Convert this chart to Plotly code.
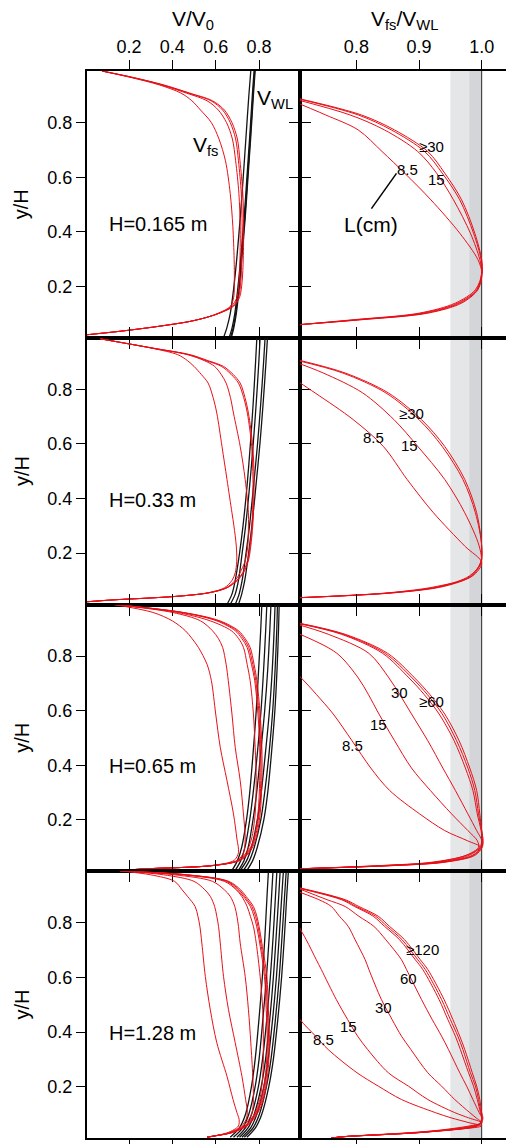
import plotly.graph_objects as go
from plotly.subplots import make_subplots

# ---------------- data ----------------
# Left column: V/V0 profiles.  Right column: Vfs/VWL ratio profiles.
ROW_TITLES = ["H=0.165 m", "H=0.33 m", "H=0.65 m", "H=1.28 m"]

# ---- Row 1 (H = 0.165 m) ----
R1_FS_Y = [0.023, 0.035, 0.048, 0.06, 0.072, 0.087, 0.103, 0.127, 0.16, 0.22, 0.3,
           0.42, 0.54, 0.66, 0.74, 0.80, 0.846, 0.88, 0.908, 0.938, 0.965, 0.989]
R1_FS_X = [
    [0.006, 0.15, 0.283, 0.39, 0.482, 0.56, 0.621, 0.682, 0.71, 0.722, 0.727, 0.729, 0.725, 0.712, 0.70, 0.675, 0.64, 0.585, 0.48, 0.36, 0.22, 0.075],
    [0.006, 0.15, 0.283, 0.39, 0.482, 0.56, 0.62, 0.678, 0.705, 0.716, 0.72, 0.722, 0.718, 0.705, 0.692, 0.667, 0.632, 0.578, 0.475, 0.355, 0.22, 0.075],
    [0.006, 0.15, 0.283, 0.39, 0.482, 0.56, 0.618, 0.672, 0.698, 0.708, 0.712, 0.713, 0.707, 0.692, 0.677, 0.65, 0.612, 0.56, 0.465, 0.35, 0.215, 0.075],
    [0.006, 0.15, 0.283, 0.39, 0.482, 0.56, 0.615, 0.668, 0.683, 0.686, 0.685, 0.679, 0.667, 0.645, 0.615, 0.58, 0.53, 0.49, 0.44, 0.34, 0.21, 0.075],
]
R1_WL_Y = [0.012, 0.05, 0.1, 0.2, 0.3, 0.45, 0.6, 0.75, 0.9, 0.99]
R1_WL_X = [
    [0.636, 0.652, 0.667, 0.684, 0.697, 0.713, 0.727, 0.740, 0.753, 0.762],
    [0.662, 0.676, 0.688, 0.703, 0.715, 0.731, 0.744, 0.757, 0.769, 0.777],
    [0.668, 0.681, 0.692, 0.707, 0.718, 0.734, 0.747, 0.760, 0.772, 0.780],
    [0.672, 0.684, 0.695, 0.709, 0.720, 0.736, 0.749, 0.762, 0.774, 0.782],
]
R1_RT_Y = [0.06, 0.078, 0.102, 0.139, 0.188, 0.249, 0.298, 0.395, 0.517, 0.615, 0.694, 0.773, 0.828, 0.887]
R1_RT_X = [
    [0.71, 0.808, 0.914, 0.968, 0.994, 1.001, 1.0, 0.989, 0.968, 0.941, 0.914, 0.861, 0.808, 0.71],
    [0.71, 0.805, 0.91, 0.965, 0.993, 1.0, 0.999, 0.987, 0.965, 0.937, 0.909, 0.856, 0.803, 0.707],
    [0.71, 0.80, 0.905, 0.962, 0.992, 1.0, 0.997, 0.982, 0.955, 0.928, 0.898, 0.845, 0.79, 0.70],
    [0.71, 0.795, 0.9, 0.958, 0.99, 1.0, 0.994, 0.965, 0.919, 0.877, 0.841, 0.803, 0.751, 0.69],
]
R1_LABELS = ["\u226530", "8.5", "15"]
R1_LABEL_X = [0.92, 0.882, 0.928]
R1_LABEL_Y = [0.712, 0.63, 0.593]

# ---- Row 2 (H = 0.33 m) ----
R2_FS_Y = [0.022, 0.029, 0.036, 0.043, 0.055, 0.073, 0.1, 0.128, 0.17, 0.226, 0.3, 0.348,
           0.47, 0.591, 0.713, 0.77, 0.823, 0.855, 0.884, 0.905, 0.927, 0.95, 0.97, 0.985]
R2_FS_X = [
    [0.006, 0.129, 0.30, 0.436, 0.57, 0.652, 0.70, 0.728, 0.75, 0.762, 0.771, 0.774, 0.777, 0.771, 0.751, 0.735, 0.713, 0.68, 0.636, 0.565, 0.482, 0.318, 0.175, 0.068],
    [0.006, 0.129, 0.30, 0.436, 0.57, 0.65, 0.697, 0.724, 0.746, 0.758, 0.767, 0.77, 0.772, 0.766, 0.746, 0.729, 0.705, 0.671, 0.627, 0.556, 0.475, 0.315, 0.175, 0.068],
    [0.006, 0.129, 0.30, 0.436, 0.568, 0.648, 0.69, 0.712, 0.735, 0.748, 0.751, 0.751, 0.736, 0.713, 0.682, 0.668, 0.648, 0.625, 0.595, 0.548, 0.47, 0.315, 0.175, 0.068],
    [0.006, 0.129, 0.30, 0.436, 0.565, 0.64, 0.675, 0.69, 0.697, 0.695, 0.684, 0.675, 0.652, 0.629, 0.605, 0.588, 0.565, 0.533, 0.50, 0.47, 0.425, 0.31, 0.175, 0.068],
]
R2_WL_Y = [0.012, 0.05, 0.1, 0.2, 0.3, 0.45, 0.6, 0.75, 0.9, 0.99]
R2_WL_X = [
    [0.652, 0.675, 0.69, 0.71, 0.726, 0.745, 0.76, 0.773, 0.784, 0.790],
    [0.667, 0.69, 0.705, 0.722, 0.738, 0.757, 0.773, 0.787, 0.799, 0.805],
    [0.69, 0.708, 0.722, 0.74, 0.756, 0.775, 0.793, 0.808, 0.821, 0.828],
    [0.705, 0.72, 0.734, 0.752, 0.767, 0.786, 0.804, 0.819, 0.832, 0.839],
]
R2_RT_Y = [0.037, 0.055, 0.079, 0.116, 0.165, 0.226, 0.348, 0.47, 0.591, 0.689, 0.787, 0.86, 0.906]
R2_RT_X = [
    [0.71, 0.861, 0.941, 0.984, 0.999, 1.0, 0.992, 0.973, 0.941, 0.904, 0.851, 0.782, 0.71],
    [0.71, 0.858, 0.938, 0.982, 0.998, 1.0, 0.99, 0.97, 0.937, 0.9, 0.847, 0.778, 0.705],
    [0.71, 0.855, 0.935, 0.98, 0.999, 0.996, 0.973, 0.941, 0.898, 0.86, 0.81, 0.747, 0.695],
    [0.71, 0.852, 0.93, 0.985, 1.0, 0.973, 0.923, 0.881, 0.843, 0.795, 0.734, 0.686, 0.656],
]
R2_LABELS = ["\u226530", "8.5", "15"]
R2_LABEL_X = [0.888, 0.827, 0.885]
R2_LABEL_Y = [0.713, 0.622, 0.594]

# ---- Row 3 (H = 0.65 m) ----
R3_FS_Y = [0.015, 0.021, 0.033, 0.052, 0.08, 0.13, 0.222, 0.344, 0.466, 0.588, 0.71,
           0.77, 0.832, 0.865, 0.893, 0.929, 0.96, 0.99]
R3_FS_X = [
    [0.16, 0.283, 0.59, 0.713, 0.755, 0.785, 0.805, 0.813, 0.813, 0.805, 0.79, 0.777, 0.759, 0.735, 0.705, 0.62, 0.45, 0.12],
    [0.16, 0.283, 0.59, 0.71, 0.75, 0.78, 0.8, 0.808, 0.808, 0.8, 0.785, 0.771, 0.752, 0.728, 0.698, 0.612, 0.445, 0.12],
    [0.16, 0.283, 0.588, 0.707, 0.746, 0.776, 0.795, 0.803, 0.803, 0.795, 0.78, 0.765, 0.745, 0.72, 0.69, 0.605, 0.44, 0.12],
    [0.16, 0.283, 0.588, 0.705, 0.74, 0.765, 0.782, 0.787, 0.782, 0.774, 0.759, 0.745, 0.728, 0.705, 0.672, 0.575, 0.42, 0.12],
    [0.16, 0.283, 0.585, 0.70, 0.728, 0.736, 0.728, 0.713, 0.69, 0.675, 0.658, 0.648, 0.632, 0.612, 0.585, 0.53, 0.40, 0.12],
    [0.16, 0.283, 0.58, 0.685, 0.705, 0.698, 0.682, 0.652, 0.621, 0.600, 0.58, 0.56, 0.52, 0.49, 0.46, 0.40, 0.31, 0.12],
]
R3_WL_Y = [0.015, 0.05, 0.1, 0.2, 0.3, 0.45, 0.6, 0.75, 0.9, 0.99]
R3_WL_X = [
    [0.675, 0.70, 0.72, 0.742, 0.757, 0.773, 0.787, 0.798, 0.808, 0.813],
    [0.69, 0.715, 0.735, 0.757, 0.773, 0.793, 0.809, 0.821, 0.831, 0.836],
    [0.705, 0.73, 0.75, 0.772, 0.789, 0.808, 0.826, 0.84, 0.85, 0.855],
    [0.713, 0.742, 0.765, 0.792, 0.81, 0.83, 0.848, 0.861, 0.87, 0.874],
    [0.728, 0.755, 0.778, 0.808, 0.826, 0.847, 0.863, 0.874, 0.882, 0.885],
    [0.744, 0.77, 0.792, 0.822, 0.84, 0.858, 0.873, 0.883, 0.89, 0.893],
]
R3_RT_Y = [0.021, 0.033, 0.045, 0.07, 0.1, 0.124, 0.161, 0.222, 0.308, 0.39, 0.49,
           0.588, 0.66, 0.72, 0.81, 0.88, 0.92]
R3_RT_X = [
    [0.71, 0.861, 0.941, 0.989, 1.001, 1.002, 1.0, 0.997, 0.992, 0.981, 0.964, 0.941, 0.917, 0.893, 0.85, 0.782, 0.71],
    [0.71, 0.858, 0.938, 0.987, 1.0, 1.002, 1.0, 0.995, 0.989, 0.978, 0.96, 0.937, 0.913, 0.889, 0.846, 0.779, 0.708],
    [0.71, 0.855, 0.935, 0.985, 0.999, 1.001, 0.999, 0.993, 0.986, 0.974, 0.956, 0.932, 0.908, 0.884, 0.842, 0.776, 0.706],
    [0.71, 0.85, 0.93, 0.98, 0.997, 1.0, 0.992, 0.978, 0.958, 0.938, 0.914, 0.888, 0.869, 0.852, 0.82, 0.755, 0.70],
    [0.71, 0.845, 0.925, 0.975, 0.995, 0.993, 0.978, 0.952, 0.918, 0.888, 0.861, 0.836, 0.819, 0.803, 0.769, 0.71, 0.665],
    [0.71, 0.84, 0.92, 0.975, 0.998, 0.977, 0.941, 0.901, 0.853, 0.823, 0.793, 0.763, 0.736, 0.712, 0.67, 0.64, 0.62],
]
R3_LABELS = ["30", "\u226560", "15", "8.5"]
R3_LABEL_X = [0.869, 0.920, 0.835, 0.794]
R3_LABEL_Y = [0.667, 0.634, 0.551, 0.472]

# ---- Row 4 (H = 1.28 m) ----
R4_FS_Y = [0.015, 0.019, 0.03, 0.043, 0.056, 0.08, 0.105, 0.153, 0.238, 0.361, 0.482,
           0.604, 0.726, 0.787, 0.824, 0.86, 0.897, 0.921, 0.952, 0.976, 0.99]
R4_FS_X = [
    [0.56, 0.59, 0.67, 0.713, 0.745, 0.774, 0.795, 0.82, 0.839, 0.848, 0.843, 0.836, 0.813, 0.80, 0.79, 0.774, 0.74, 0.715, 0.66, 0.47, 0.16],
    [0.56, 0.59, 0.667, 0.71, 0.741, 0.77, 0.79, 0.815, 0.834, 0.843, 0.838, 0.83, 0.808, 0.795, 0.784, 0.767, 0.733, 0.708, 0.655, 0.465, 0.16],
    [0.56, 0.59, 0.665, 0.707, 0.738, 0.766, 0.786, 0.81, 0.829, 0.838, 0.833, 0.825, 0.803, 0.789, 0.777, 0.76, 0.727, 0.70, 0.65, 0.46, 0.16],
    [0.56, 0.59, 0.662, 0.705, 0.735, 0.762, 0.782, 0.803, 0.817, 0.82, 0.817, 0.805, 0.787, 0.774, 0.76, 0.745, 0.72, 0.695, 0.64, 0.45, 0.16],
    [0.56, 0.59, 0.66, 0.70, 0.728, 0.753, 0.768, 0.774, 0.771, 0.762, 0.751, 0.736, 0.713, 0.705, 0.698, 0.688, 0.667, 0.64, 0.585, 0.41, 0.16],
    [0.56, 0.59, 0.655, 0.695, 0.72, 0.74, 0.746, 0.738, 0.721, 0.69, 0.659, 0.636, 0.621, 0.613, 0.605, 0.595, 0.575, 0.55, 0.50, 0.36, 0.16],
    [0.56, 0.59, 0.65, 0.685, 0.705, 0.708, 0.698, 0.68, 0.652, 0.605, 0.575, 0.552, 0.536, 0.527, 0.518, 0.505, 0.47, 0.445, 0.41, 0.30, 0.16],
]
R4_WL_Y = [0.015, 0.05, 0.1, 0.2, 0.3, 0.45, 0.6, 0.75, 0.9, 0.985]
R4_WL_X = [
    [0.667, 0.71, 0.738, 0.765, 0.782, 0.80, 0.815, 0.827, 0.837, 0.843],
    [0.682, 0.725, 0.753, 0.782, 0.80, 0.818, 0.834, 0.847, 0.858, 0.864],
    [0.698, 0.738, 0.766, 0.797, 0.816, 0.836, 0.852, 0.865, 0.876, 0.882],
    [0.71, 0.75, 0.778, 0.81, 0.83, 0.85, 0.866, 0.879, 0.891, 0.897],
    [0.721, 0.762, 0.79, 0.822, 0.842, 0.863, 0.88, 0.893, 0.905, 0.912],
    [0.732, 0.773, 0.802, 0.834, 0.855, 0.876, 0.893, 0.906, 0.918, 0.925],
    [0.744, 0.784, 0.813, 0.845, 0.866, 0.887, 0.904, 0.917, 0.928, 0.935],
]
R4_RT_Y = [0.012, 0.017, 0.034, 0.056, 0.068, 0.086, 0.105, 0.153, 0.202, 0.251, 0.336,
           0.385, 0.446, 0.519, 0.629, 0.665, 0.738, 0.787, 0.824, 0.86, 0.885, 0.928]
R4_RT_X = [
    [0.76, 0.782, 0.914, 0.994, 1.0, 1.002, 1.0, 0.997, 0.992, 0.985, 0.973, 0.965, 0.954, 0.940, 0.914, 0.902, 0.877, 0.853, 0.835, 0.804, 0.782, 0.71],
    [0.76, 0.782, 0.912, 0.992, 0.999, 1.001, 0.999, 0.995, 0.99, 0.982, 0.97, 0.962, 0.95, 0.936, 0.91, 0.898, 0.873, 0.849, 0.831, 0.80, 0.779, 0.708],
    [0.76, 0.782, 0.91, 0.99, 0.998, 1.0, 0.998, 0.993, 0.987, 0.979, 0.966, 0.958, 0.946, 0.932, 0.906, 0.894, 0.869, 0.845, 0.827, 0.797, 0.776, 0.706],
    [0.76, 0.78, 0.912, 0.99, 0.998, 1.0, 0.996, 0.986, 0.976, 0.965, 0.947, 0.936, 0.921, 0.904, 0.880, 0.872, 0.847, 0.828, 0.804, 0.782, 0.753, 0.705],
    [0.76, 0.78, 0.91, 0.985, 1.0, 0.991, 0.981, 0.957, 0.936, 0.914, 0.887, 0.872, 0.857, 0.84, 0.82, 0.814, 0.798, 0.787, 0.773, 0.76, 0.74, 0.69],
    [0.76, 0.78, 0.905, 0.98, 1.0, 0.979, 0.957, 0.914, 0.883, 0.851, 0.818, 0.802, 0.786, 0.768, 0.744, 0.736, 0.72, 0.708, 0.70, 0.69, 0.68, 0.67],
    [0.76, 0.78, 0.90, 1.0, 0.98, 0.951, 0.926, 0.872, 0.835, 0.801, 0.755, 0.735, 0.71, 0.69, 0.66, 0.65, 0.635, 0.625, 0.615, 0.605, 0.60, 0.59],
]
R4_LABELS = ["\u2265120", "60", "30", "15", "8.5"]
R4_LABEL_X = [0.906, 0.883, 0.843, 0.787, 0.747]
R4_LABEL_Y = [0.702, 0.595, 0.489, 0.421, 0.373]

# axis ticks
LEFT_TICKS = [0.2, 0.4, 0.6, 0.8]
RIGHT_TICKS = [0.8, 0.9, 1.0]
Y_TICKS = [0.2, 0.4, 0.6, 0.8]
LEFT_RANGE = [0.006, 0.989]
RIGHT_RANGE = [0.71, 1.05]
Y_RANGE = [0.012, 0.989]
BAND_LIGHT = [0.95, 0.98]
BAND_DARK = [0.98, 1.0]

# positions of in-panel text (data coordinates)
H_LABEL_X = 0.099
H_LABEL_Y = [0.43, 0.396, 0.399, 0.397]
VFS_POS = [0.555, 0.715]
VWL_POS = [0.875, 0.885]
LCM_POS = [0.824, 0.425]
LCM_LINE_X = [0.824, 0.864]
LCM_LINE_Y = [0.485, 0.614]

# ---------------- figure ----------------
RED = "rgb(230,16,24)"
BLACK = "rgb(20,20,20)"
FONT = "Liberation Sans, Arial, Helvetica, sans-serif"

fig = make_subplots(rows=4, cols=2, horizontal_spacing=0, vertical_spacing=0)

rows = [
    (R1_FS_Y, R1_FS_X, R1_WL_Y, R1_WL_X, R1_RT_Y, R1_RT_X, R1_LABELS, R1_LABEL_X, R1_LABEL_Y),
    (R2_FS_Y, R2_FS_X, R2_WL_Y, R2_WL_X, R2_RT_Y, R2_RT_X, R2_LABELS, R2_LABEL_X, R2_LABEL_Y),
    (R3_FS_Y, R3_FS_X, R3_WL_Y, R3_WL_X, R3_RT_Y, R3_RT_X, R3_LABELS, R3_LABEL_X, R3_LABEL_Y),
    (R4_FS_Y, R4_FS_X, R4_WL_Y, R4_WL_X, R4_RT_Y, R4_RT_X, R4_LABELS, R4_LABEL_X, R4_LABEL_Y),
]

def line(x, y, color, width, row, col):
    fig.add_trace(go.Scatter(x=x, y=y, mode="lines",
                             line=dict(color=color, width=width, shape="spline", smoothing=0.9),
                             hoverinfo="skip", showlegend=False), row=row, col=col)

for i, (fy, fxs, wy, wxs, ry, rxs, labs, lx, ly) in enumerate(rows):
    r = i + 1
    for wx in wxs:
        line(wx, wy, BLACK, 1.3, r, 1)
    for fx in fxs:
        line(fx, fy, RED, 1.0, r, 1)
    for rx in rxs:
        line(rx, ry, RED, 1.0, r, 2)

    n_left = 2 * i + 1
    n_right = 2 * i + 2
    xl = "x" if n_left == 1 else f"x{n_left}"
    yl = "y" if n_left == 1 else f"y{n_left}"
    xr = f"x{n_right}"
    yr = f"y{n_right}"

    # grey bands in the ratio panel
    fig.add_shape(type="rect", xref=xr, yref=f"{yr} domain", x0=BAND_LIGHT[0], x1=BAND_LIGHT[1],
                  y0=0, y1=1, fillcolor="rgb(229,230,232)", line=dict(width=0), layer="below")
    fig.add_shape(type="rect", xref=xr, yref=f"{yr} domain", x0=BAND_DARK[0], x1=BAND_DARK[1],
                  y0=0, y1=1, fillcolor="rgb(212,213,216)", line=dict(width=0), layer="below")
    fig.add_shape(type="line", xref=xr, yref=f"{yr} domain", x0=BAND_DARK[1], x1=BAND_DARK[1],
                  y0=0, y1=1, line=dict(color="rgb(40,40,40)", width=1), layer="below")

    # H label
    fig.add_annotation(x=H_LABEL_X, y=H_LABEL_Y[i], xref=xl, yref=yl, text=ROW_TITLES[i],
                       showarrow=False, xanchor="left", yanchor="middle",
                       font=dict(family=FONT, size=20, color="black"))
    # L labels
    for t, xx, yy in zip(labs, lx, ly):
        fig.add_annotation(x=xx, y=yy, xref=xr, yref=yr, text=t, showarrow=False,
                           xanchor="center", yanchor="middle",
                           font=dict(family=FONT, size=15, color="black"))

    # y/H label
    fig.add_annotation(x=-0.153, y=0.875 - 0.25 * i, xref="paper", yref="paper", text="y/H",
                       textangle=-90, showarrow=False, xanchor="center", yanchor="middle",
                       font=dict(family=FONT, size=20, color="black"))

# extra labels in row 1
fig.add_annotation(x=VFS_POS[0], y=VFS_POS[1], xref="x", yref="y", text="V<sub>fs</sub>",
                   showarrow=False, font=dict(family=FONT, size=21, color="black"))
fig.add_annotation(x=VWL_POS[0], y=VWL_POS[1], xref="x", yref="y", text="V<sub>WL</sub>",
                   showarrow=False, font=dict(family=FONT, size=21, color="black"))
fig.add_annotation(x=LCM_POS[0], y=LCM_POS[1], xref="x2", yref="y2", text="L(cm)",
                   showarrow=False, font=dict(family=FONT, size=21, color="black"))
fig.add_shape(type="line", xref="x2", yref="y2", x0=LCM_LINE_X[0], y0=LCM_LINE_Y[0],
              x1=LCM_LINE_X[1], y1=LCM_LINE_Y[1], line=dict(color="black", width=1.5))

# column titles
fig.add_annotation(x=0.249, y=1.048, xref="paper", yref="paper", text="V/V<sub>0</sub>",
                   showarrow=False, xanchor="center", yanchor="middle",
                   font=dict(family=FONT, size=21, color="black"))
fig.add_annotation(x=0.746, y=1.048, xref="paper", yref="paper",
                   text="V<sub>fs</sub>/V<sub>WL</sub>", showarrow=False,
                   xanchor="center", yanchor="middle",
                   font=dict(family=FONT, size=21, color="black"))

axis_common = dict(showline=True, linewidth=2, linecolor="black", mirror="ticks",
                   ticks="outside", ticklen=9, tickwidth=1.3, tickcolor="black",
                   showgrid=False, zeroline=False, automargin=False,
                   tickfont=dict(family=FONT, size=18, color="black"))

for r in range(1, 5):
    for c in (1, 2):
        fig.update_xaxes(range=LEFT_RANGE if c == 1 else RIGHT_RANGE,
                         tickvals=LEFT_TICKS if c == 1 else RIGHT_TICKS,
                         ticktext=[f"{v:.1f}" for v in (LEFT_TICKS if c == 1 else RIGHT_TICKS)],
                         side="top" if r == 1 else "bottom",
                         showticklabels=(r == 1), row=r, col=c, **axis_common)
        fig.update_yaxes(range=Y_RANGE, tickvals=Y_TICKS,
                         ticktext=[f"{v:.1f}" for v in Y_TICKS],
                         showticklabels=(c == 1), row=r, col=c, **axis_common)

# the page body adds an 8px margin, so the figure is sized to fit inside it
fig.update_layout(width=506, height=1136,
                  margin=dict(l=79, r=1, t=63, b=6),
                  paper_bgcolor="white", plot_bgcolor="white",
                  font=dict(family=FONT, color="black"),
                  showlegend=False)

fig.write_html("out.html")
